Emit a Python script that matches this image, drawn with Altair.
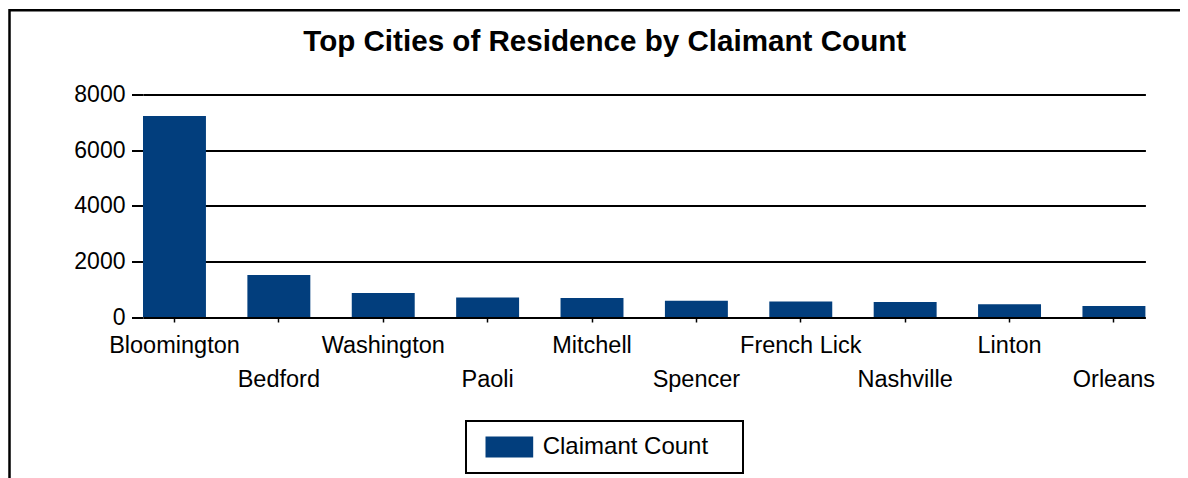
import altair as alt
import pandas as pd

cities = ["Bloomington", "Bedford", "Washington", "Paoli", "Mitchell",
          "Spencer", "French Lick", "Nashville", "Linton", "Orleans"]
counts = [7230, 1510, 860, 700, 680, 585, 560, 540, 455, 395]
series = ["Claimant Count"] * len(cities)
y_ticks = [0, 2000, 4000, 6000, 8000]

FONT = "Liberation Sans"
BLUE = "#023E7D"

df = pd.DataFrame({"City": cities, "Count": counts, "Series": series})

bars = alt.Chart(df).mark_bar(color=BLUE).encode(
    x=alt.X("City:N", sort=cities, title=None,
            scale=alt.Scale(paddingInner=0.397, paddingOuter=0.0),
            axis=alt.Axis(labelAngle=0, labelFontSize=23.5, labelFont=FONT, labelColor="black",
                          tickColor="black", tickSize=5, tickWidth=1.5, domain=False, grid=False,
                          labelPadding=11.5, labelLineHeight=33.5,
                          labelExpr="round(datum.index*9) % 2 ? [' ', datum.label] : datum.label")),
    y=alt.Y("Count:Q", title=None, scale=alt.Scale(domain=[0, 8000], nice=False),
            axis=alt.Axis(values=y_ticks, format="d", labelFontSize=23, labelFont=FONT,
                          labelColor="black",
                          tickColor="black", tickSize=11.5, tickWidth=2, domain=False,
                          grid=True, gridColor="black", gridWidth=2, gridOpacity=1,
                          labelPadding=6.5)),
    color=alt.Color("Series:N",
                    scale=alt.Scale(domain=["Claimant Count"], range=[BLUE]),
                    legend=alt.Legend(orient="none", legendX=323, legendY=326.5,
                                      direction="horizontal",
                                      title="\u00a0", titleOrient="right", titlePadding=21,
                                      titleFontSize=24, titleFont=FONT,
                                      symbolType="M-2.271,-1H2.271V1H-2.271Z",
                                      symbolSize=441, symbolStrokeWidth=0, symbolOpacity=1,
                                      symbolOffset=17.35,
                                      labelFontSize=24, labelFont=FONT, labelColor="black",
                                      labelOffset=21.35, labelLimit=400, padding=14,
                                      strokeColor="black", fillColor="white")),
)

frame = alt.Chart(pd.DataFrame({"a": [0]})).mark_rect(
    fill=None, stroke="black", strokeWidth=2.5
).encode(
    x=alt.value(-133.5), x2=alt.value(1600), y=alt.value(-84.2), y2=alt.value(900)
)

chart = alt.layer(bars, frame).properties(
    width=1002.4, height=222.5,
    autosize=alt.AutoSizeParams(type="none"),
    padding={"left": 135, "top": 86.5, "right": 34.6, "bottom": 161},
    title=alt.TitleParams("Top Cities of Residence by Claimant Count",
                          font=FONT, fontSize=29.6, fontWeight="bold", color="black",
                          anchor="middle", dx=-39.5, offset=-71.5, baseline="alphabetic"),
).configure_view(stroke=None).configure_legend(strokeWidth=2)

chart.save("out.html", embed_options={"renderer": "svg", "actions": False})
